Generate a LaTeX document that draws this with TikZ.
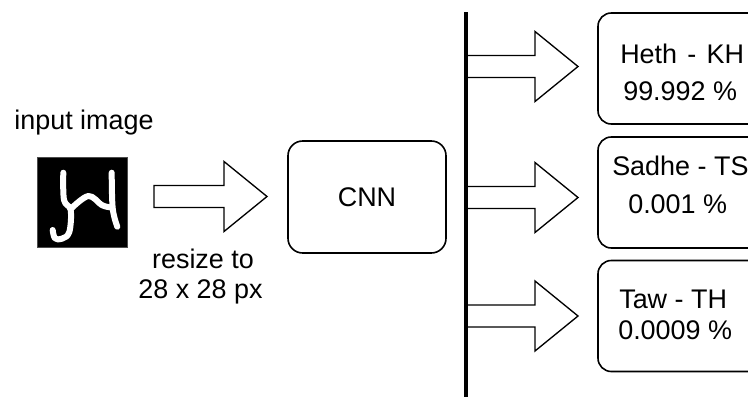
\documentclass[tikz,border=0pt]{standalone}
\usepackage{fontspec}
\setmainfont{Liberation Sans}
\usetikzlibrary{calc}

% outlined block arrow between two named coordinates at the same height
\newcommand{\fatarrow}[2]{%
  \draw[blockarrow] let \p1=(#1), \p2=(#2) in
    ({\x1},{\y1+8.25pt}) -- ({\x2-32.25pt},{\y1+8.25pt}) -- ({\x2-32.25pt},{\y1+26.25pt})
    -- (\p2) -- ({\x2-32.25pt},{\y1-26.25pt}) -- ({\x2-32.25pt},{\y1-8.25pt}) -- ({\x1},{\y1-8.25pt}) -- cycle;}

\begin{document}
\begin{tikzpicture}[x=0.75pt,y=-0.75pt,font=\fontsize{20.2}{24}\selectfont,
  resbox/.style={draw,line width=1.2pt,rounded corners=10pt,minimum width=150pt,minimum height=83.25pt},
  blockarrow/.style={draw,line width=1pt,fill=white},
  pen/.style={white,line width=4.5pt,line cap=round,line join=round},
  lbl/.style={inner sep=0pt,anchor=base west}]
\clip (0,0) rectangle (748,396);

% input
\node[inner sep=0pt,anchor=base] (intext) at (84,129) {input image};
\node[fill=black,draw=black!70,line width=.4pt,inner sep=0pt,minimum size=67.5pt] (img) at (82,202) {};
\draw[pen] plot[smooth,tension=.6] coordinates {(63.3,172.7) (64,200) (70.7,210) (69.3,232) (62,238.7) (55,238.3) (52.7,230)};
\draw[pen] plot[smooth,tension=.6] coordinates {(70.7,209) (88.3,196) (101.7,205) (110,207.3)};
\draw[pen] plot[smooth,tension=.6] coordinates {(111.7,172.7) (112.7,208.3) (117.3,226.7)};

\coordinate (in0) at (154,196.5); \coordinate (tip0) at (267,196.5);
\fatarrow{in0}{tip0}
\node[inner sep=0pt,anchor=base] (resize) at (203,268) {resize to};
\node[inner sep=0pt,anchor=base] (px) at (200.5,298) {28 x 28 px};

% network
\node[draw,line width=1.2pt,rounded corners=11pt,minimum width=118.5pt,minimum height=84pt] (cnn) at (367,197) {CNN};

% outputs
\coordinate (bartop) at (466,12); \coordinate (barbot) at (466,400);
\node[resbox] (heth) at (698,68.5) {};
\node[resbox] (sadhe) at (698,192.5) {};
\node[resbox] (taw) at (698,316) {};
\foreach \y/\k in {66.5/1,197.5/2,316/3}{
  \coordinate (out\k) at (466,\y); \coordinate (tip\k) at (578,\y);
  \fatarrow{out\k}{tip\k}
}
\draw[line width=3pt] (bartop) -- (barbot);

\node[lbl] (hethname) at (620,63) {Heth\hspace{.38em}-\hspace{.38em}KH};
\node[lbl] (hethval) at (623,100) {99.992 \%};
\node[lbl] (sadhename) at (612,175) {Sadhe - TS};
\node[lbl] (sadheval) at (628,213) {0.001 \%};
\node[lbl] (tawname) at (619,308) {Taw - TH};
\node[lbl] (tawval) at (618,339) {0.0009 \%};
\end{tikzpicture}
\end{document}
